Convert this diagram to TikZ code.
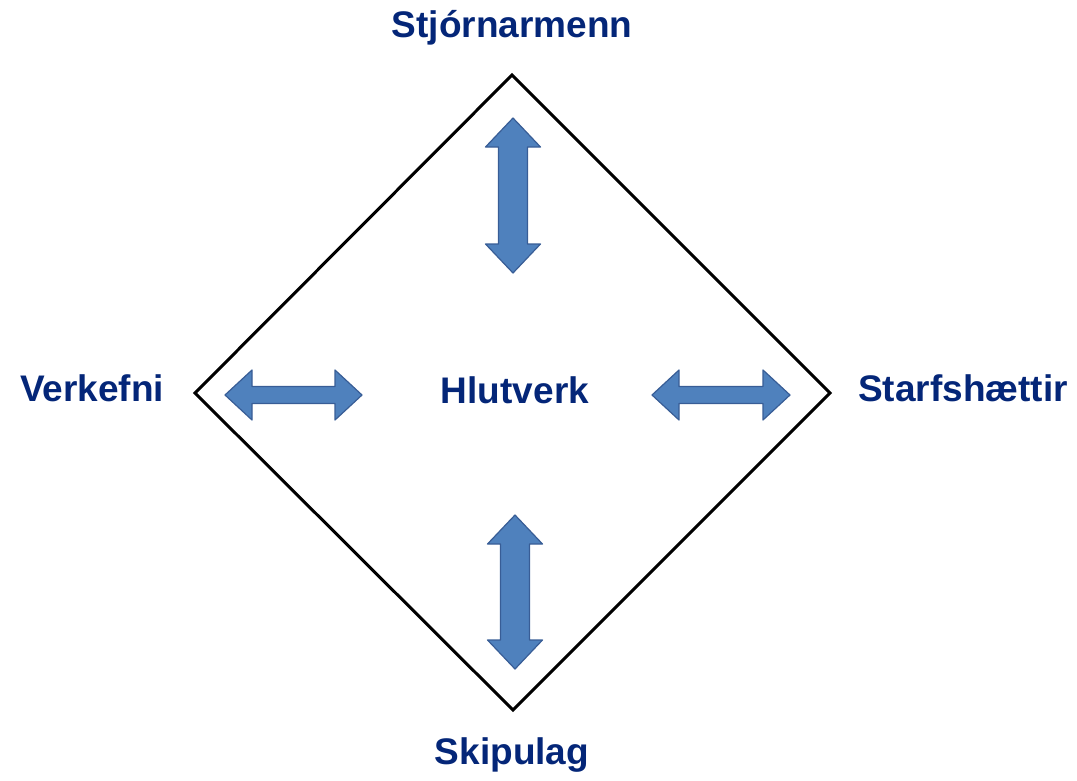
\documentclass[tikz,border=0pt]{standalone}
\usepackage{fontspec}
\setmainfont{Liberation Sans}
\definecolor{txtblue}{RGB}{4,38,120}
\definecolor{arrfill}{RGB}{79,129,189}
\definecolor{arrdraw}{RGB}{56,93,150}
\tikzset{
  lbl/.style={font=\fontsize{37}{44}\selectfont\bfseries, text=txtblue, inner sep=0pt},
  dblarrow/.style={fill=arrfill, draw=arrdraw, line width=1.2pt, line join=round},
  frame/.style={draw=black, line width=3pt, line join=miter}
}
\begin{document}
\begin{tikzpicture}[x=1pt,y=-1pt]
\useasboundingbox (0,0) rectangle (1077,780);
% diamond
\coordinate (T) at (512,75);
\coordinate (L) at (195,393);
\coordinate (R) at (830,393);
\coordinate (B) at (513,710);
\draw[frame] (T) -- (R) -- (B) -- (L) -- cycle;
% vertical top arrow
\draw[dblarrow] (513,118) -- (540.5,147) -- (527.5,147) -- (527.5,244) -- (540.5,244)
  -- (513,273) -- (485.5,244) -- (498.5,244) -- (498.5,147) -- (485.5,147) -- cycle;
% vertical bottom arrow
\draw[dblarrow] (515,515) -- (542.5,544) -- (529.5,544) -- (529.5,640) -- (542.5,640)
  -- (515,669) -- (487.5,640) -- (500.5,640) -- (500.5,544) -- (487.5,544) -- cycle;
% horizontal left arrow
\draw[dblarrow] (225,395) -- (252,370) -- (252,386.5) -- (335,386.5) -- (335,370)
  -- (362,395) -- (335,420) -- (335,403.5) -- (252,403.5) -- (252,420) -- cycle;
% horizontal right arrow
\draw[dblarrow] (652,395) -- (679,370) -- (679,386.5) -- (763,386.5) -- (763,370)
  -- (790,395) -- (763,420) -- (763,403.5) -- (679,403.5) -- (679,420) -- cycle;
% labels
\node[lbl] (top) at (512,28) {Stjórnarmenn};
\node[lbl] (left) at (92,388) {Verkefni};
\node[lbl] (mid) at (515,390) {Hlutverk};
\node[lbl] (right) at (963,388) {Starfshættir};
\node[lbl] (bot) at (512,755) {Skipulag};
\end{tikzpicture}
\end{document}
